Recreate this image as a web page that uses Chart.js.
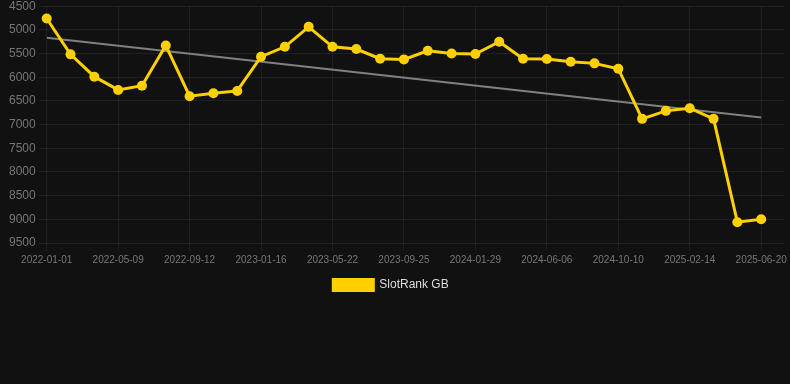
<!DOCTYPE html>
<html>
<head>
<meta charset="utf-8">
<script src="https://cdn.jsdelivr.net/npm/chart.js@4/dist/chart.umd.min.js"></script>
<style>
  html, body { margin: 0; padding: 0; background: #111111; overflow: hidden; }
  #wrap { position: relative; width: 790px; height: 305px; margin-top: -4px; }
</style>
</head>
<body>
<div id="wrap"><canvas id="c"></canvas></div>
<script>
const tickLabels = ["2022-01-01","2022-05-09","2022-09-12","2023-01-16","2023-05-22","2023-09-25","2024-01-29","2024-06-06","2024-10-10","2025-02-14","2025-06-20"];
const rankValues = [4760,5517,5988,6268,6178,5328,6401,6338,6289,5567,5357,4936,5357,5405,5609,5623,5441,5497,5510,5251,5609,5616,5672,5707,5820,6879,6710,6654,6879,9061,8998];
const trendValues = [5167, 6851];
const seriesName = "SlotRank GB";

const rankPoints = rankValues.map((v, i) => ({ x: i, y: v }));
const trendPoints = [{ x: 0, y: trendValues[0] }, { x: rankValues.length - 1, y: trendValues[1] }];

const legendShift = {
  id: 'legendShift',
  afterLayout(chart) {
    const lg = chart.legend;
    if (lg) { lg.left -= 7; lg.right -= 7; }
  }
};

new Chart(document.getElementById('c'), {
  type: 'line',
  data: {
    datasets: [
      {
        label: seriesName,
        data: rankPoints,
        borderColor: '#FFD000',
        backgroundColor: '#FFD000',
        borderWidth: 3,
        pointRadius: 5,
        pointBackgroundColor: '#FFD000',
        pointBorderWidth: 0,
        tension: 0,
        clip: false,
        order: 0
      },
      {
        label: 'trend',
        data: trendPoints,
        borderColor: '#808080',
        borderWidth: 2,
        pointRadius: 0,
        tension: 0,
        order: 1
      }
    ]
  },
  plugins: [legendShift],
  options: {
    responsive: true,
    maintainAspectRatio: false,
    animation: false,
    layout: { padding: { left: 6, right: 0, top: 0, bottom: 0 } },
    plugins: {
      legend: {
        position: 'bottom',
        labels: {
          color: '#dddddd',
          font: { size: 12, family: 'Liberation Sans, Arial, sans-serif' },
          boxWidth: 40,
          boxHeight: 11,
          filter: (item) => item.text === seriesName
        }
      },
      tooltip: { enabled: false }
    },
    scales: {
      x: {
        type: 'linear',
        min: 0,
        max: 31.0,
        grid: { color: 'rgba(255,255,255,0.06)', drawTicks: true, tickLength: 8 },
        border: { display: false },
        afterBuildTicks: (scale) => {
          scale.ticks = tickLabels.map((_, i) => ({ value: i * 3 }));
        },
        ticks: {
          autoSkip: false,
          maxRotation: 0,
          color: '#777777',
          font: { size: 10, family: 'Liberation Sans, Arial, sans-serif' },
          callback: function(v) {
            const l = tickLabels[v / 3];
            return l === undefined ? null : l;
          }
        }
      },
      y: {
        reverse: true,
        min: 4500,
        max: 9500,
        grid: { color: 'rgba(255,255,255,0.06)', tickLength: 8 },
        border: { display: false },
        ticks: {
          stepSize: 500,
          color: '#777777',
          font: { size: 12, family: 'Liberation Sans, Arial, sans-serif' },
          callback: (v) => String(v)
        }
      }
    }
  }
});
</script>
</body>
</html>
